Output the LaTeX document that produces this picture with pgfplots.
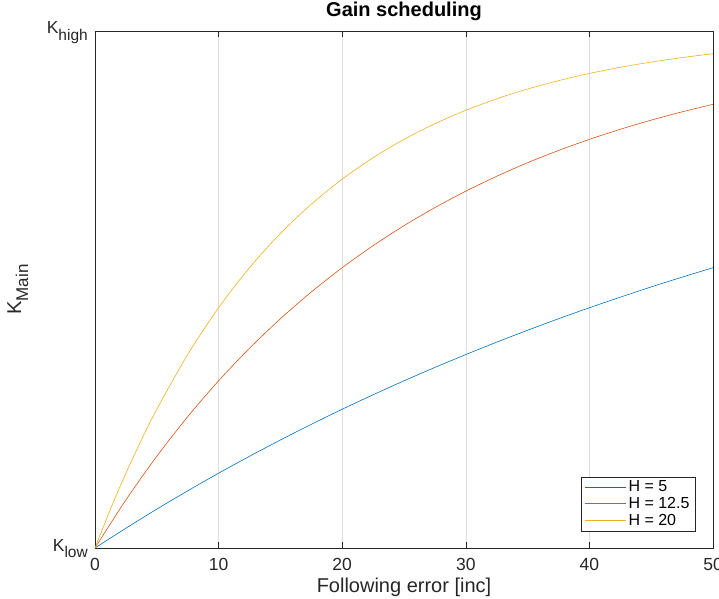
\documentclass[border=0pt]{standalone}
\usepackage{fontspec}
\setmainfont{Liberation Sans}
\usepackage{pgfplots}
\pgfplotsset{compat=1.18}
\definecolor{mblue}{rgb}{0,0.447,0.741}
\definecolor{mred}{rgb}{0.85,0.325,0.098}
\definecolor{myellow}{rgb}{0.929,0.694,0.125}
\definecolor{axgray}{rgb}{0.15,0.15,0.15}
\definecolor{gridgray}{rgb}{0.87,0.87,0.87}
\newcommand{\lgd}[1]{\fontsize{16}{18}\selectfont\rule[-3pt]{0pt}{14pt}#1}
\begin{document}
\begin{tikzpicture}[x=1pt,y=1pt]
\useasboundingbox (-95,-50) rectangle (624,548);
\begin{axis}[
  at={(0,0)}, anchor=south west,
  scale only axis, width=618pt, height=517pt,
  xmin=0, xmax=50, ymin=0, ymax=1,
  xtick={0,10,20,30,40,50},
  ytick={0,1},
  yticklabels={{K\raisebox{-6.5pt}{\fontsize{15.5}{17}\selectfont low}},{K\raisebox{-6.5pt}{\fontsize{15.5}{17}\selectfont high}}},
  /pgf/number format/assume math mode=true,
  ticklabel style={font=\fontsize{17.5}{20}\selectfont, text=axgray},
  xticklabel style={anchor=base, yshift=-22pt, inner sep=0pt},
  yticklabel style={anchor=base east, xshift=-7pt, yshift=-3pt, inner sep=0pt},
  xmajorgrids,
  grid style={gridgray, line width=0.6pt},
  axis line style={axgray, line width=0.6pt},
  tick style={axgray, line width=0.6pt},
  major tick length=6pt,
  tick align=inside,
  title={\textbf{Gain scheduling}},
  title style={at={(axis description cs:0.5,1)}, anchor=base, yshift=8pt, font=\fontsize{20}{22}\selectfont, inner sep=0pt},
  xlabel={Following error [inc]},
  xlabel style={at={(axis description cs:0.5,0)}, anchor=base, yshift=-44pt, font=\fontsize{20}{22}\selectfont, text=axgray, inner sep=0pt},
  ylabel={K\raisebox{-7pt}{\fontsize{17}{19}\selectfont Main}},
  ylabel style={at={(axis description cs:-0.125,0.5)}, anchor=center, font=\fontsize{20}{22}\selectfont, text=axgray},
  legend style={at={(axis cs:48.6,0.033)}, anchor=south east, draw=axgray, inner xsep=4pt, inner ysep=2pt, row sep=0pt, fill=white},
  legend cell align=left,
  legend image code/.code={\draw[line width=0.8pt,#1] (0pt,0pt) -- (41pt,0pt);},
]
\addplot[mblue, line width=0.6pt, smooth] coordinates {
(0,0) (2.5,0.0383) (5,0.0752) (7.5,0.1106) (10,0.1447) (12.5,0.1774) (15,0.2089) (17.5,0.2392) (20,0.2684) (22.5,0.2964) (25,0.3234) (27.5,0.3493) (30,0.3742) (32.5,0.3982) (35,0.4212) (37.5,0.4434) (40,0.4647) (42.5,0.4852) (45,0.5050) (47.5,0.5239) (50,0.5422)};
\addlegendentry{\lgd{H = 5}}
\addplot[mred, line width=0.6pt, smooth] coordinates {
(0,0) (2.5,0.0930) (5,0.1774) (7.5,0.2540) (10,0.3234) (12.5,0.3863) (15,0.4434) (17.5,0.4952) (20,0.5422) (22.5,0.5848) (25,0.6234) (27.5,0.6584) (30,0.6902) (32.5,0.7190) (35,0.7452) (37.5,0.7689) (40,0.7904) (42.5,0.8099) (45,0.8276) (47.5,0.8436) (50,0.8582)};
\addlegendentry{\lgd{H = 12.5}}
\addplot[myellow, line width=0.6pt, smooth] coordinates {
(0,0) (1.25,0.0752) (2.5,0.1447) (3.75,0.2089) (5,0.2684) (7.5,0.3742) (10,0.4647) (12.5,0.5422) (15,0.6084) (17.5,0.6650) (20,0.7135) (22.5,0.7549) (25,0.7904) (27.5,0.8207) (30,0.8466) (32.5,0.8688) (35,0.8878) (37.5,0.9040) (40,0.9179) (42.5,0.9298) (45,0.9399) (47.5,0.9486) (50,0.9561)};
\addlegendentry{\lgd{H = 20}}
\end{axis}
\end{tikzpicture}
\end{document}
